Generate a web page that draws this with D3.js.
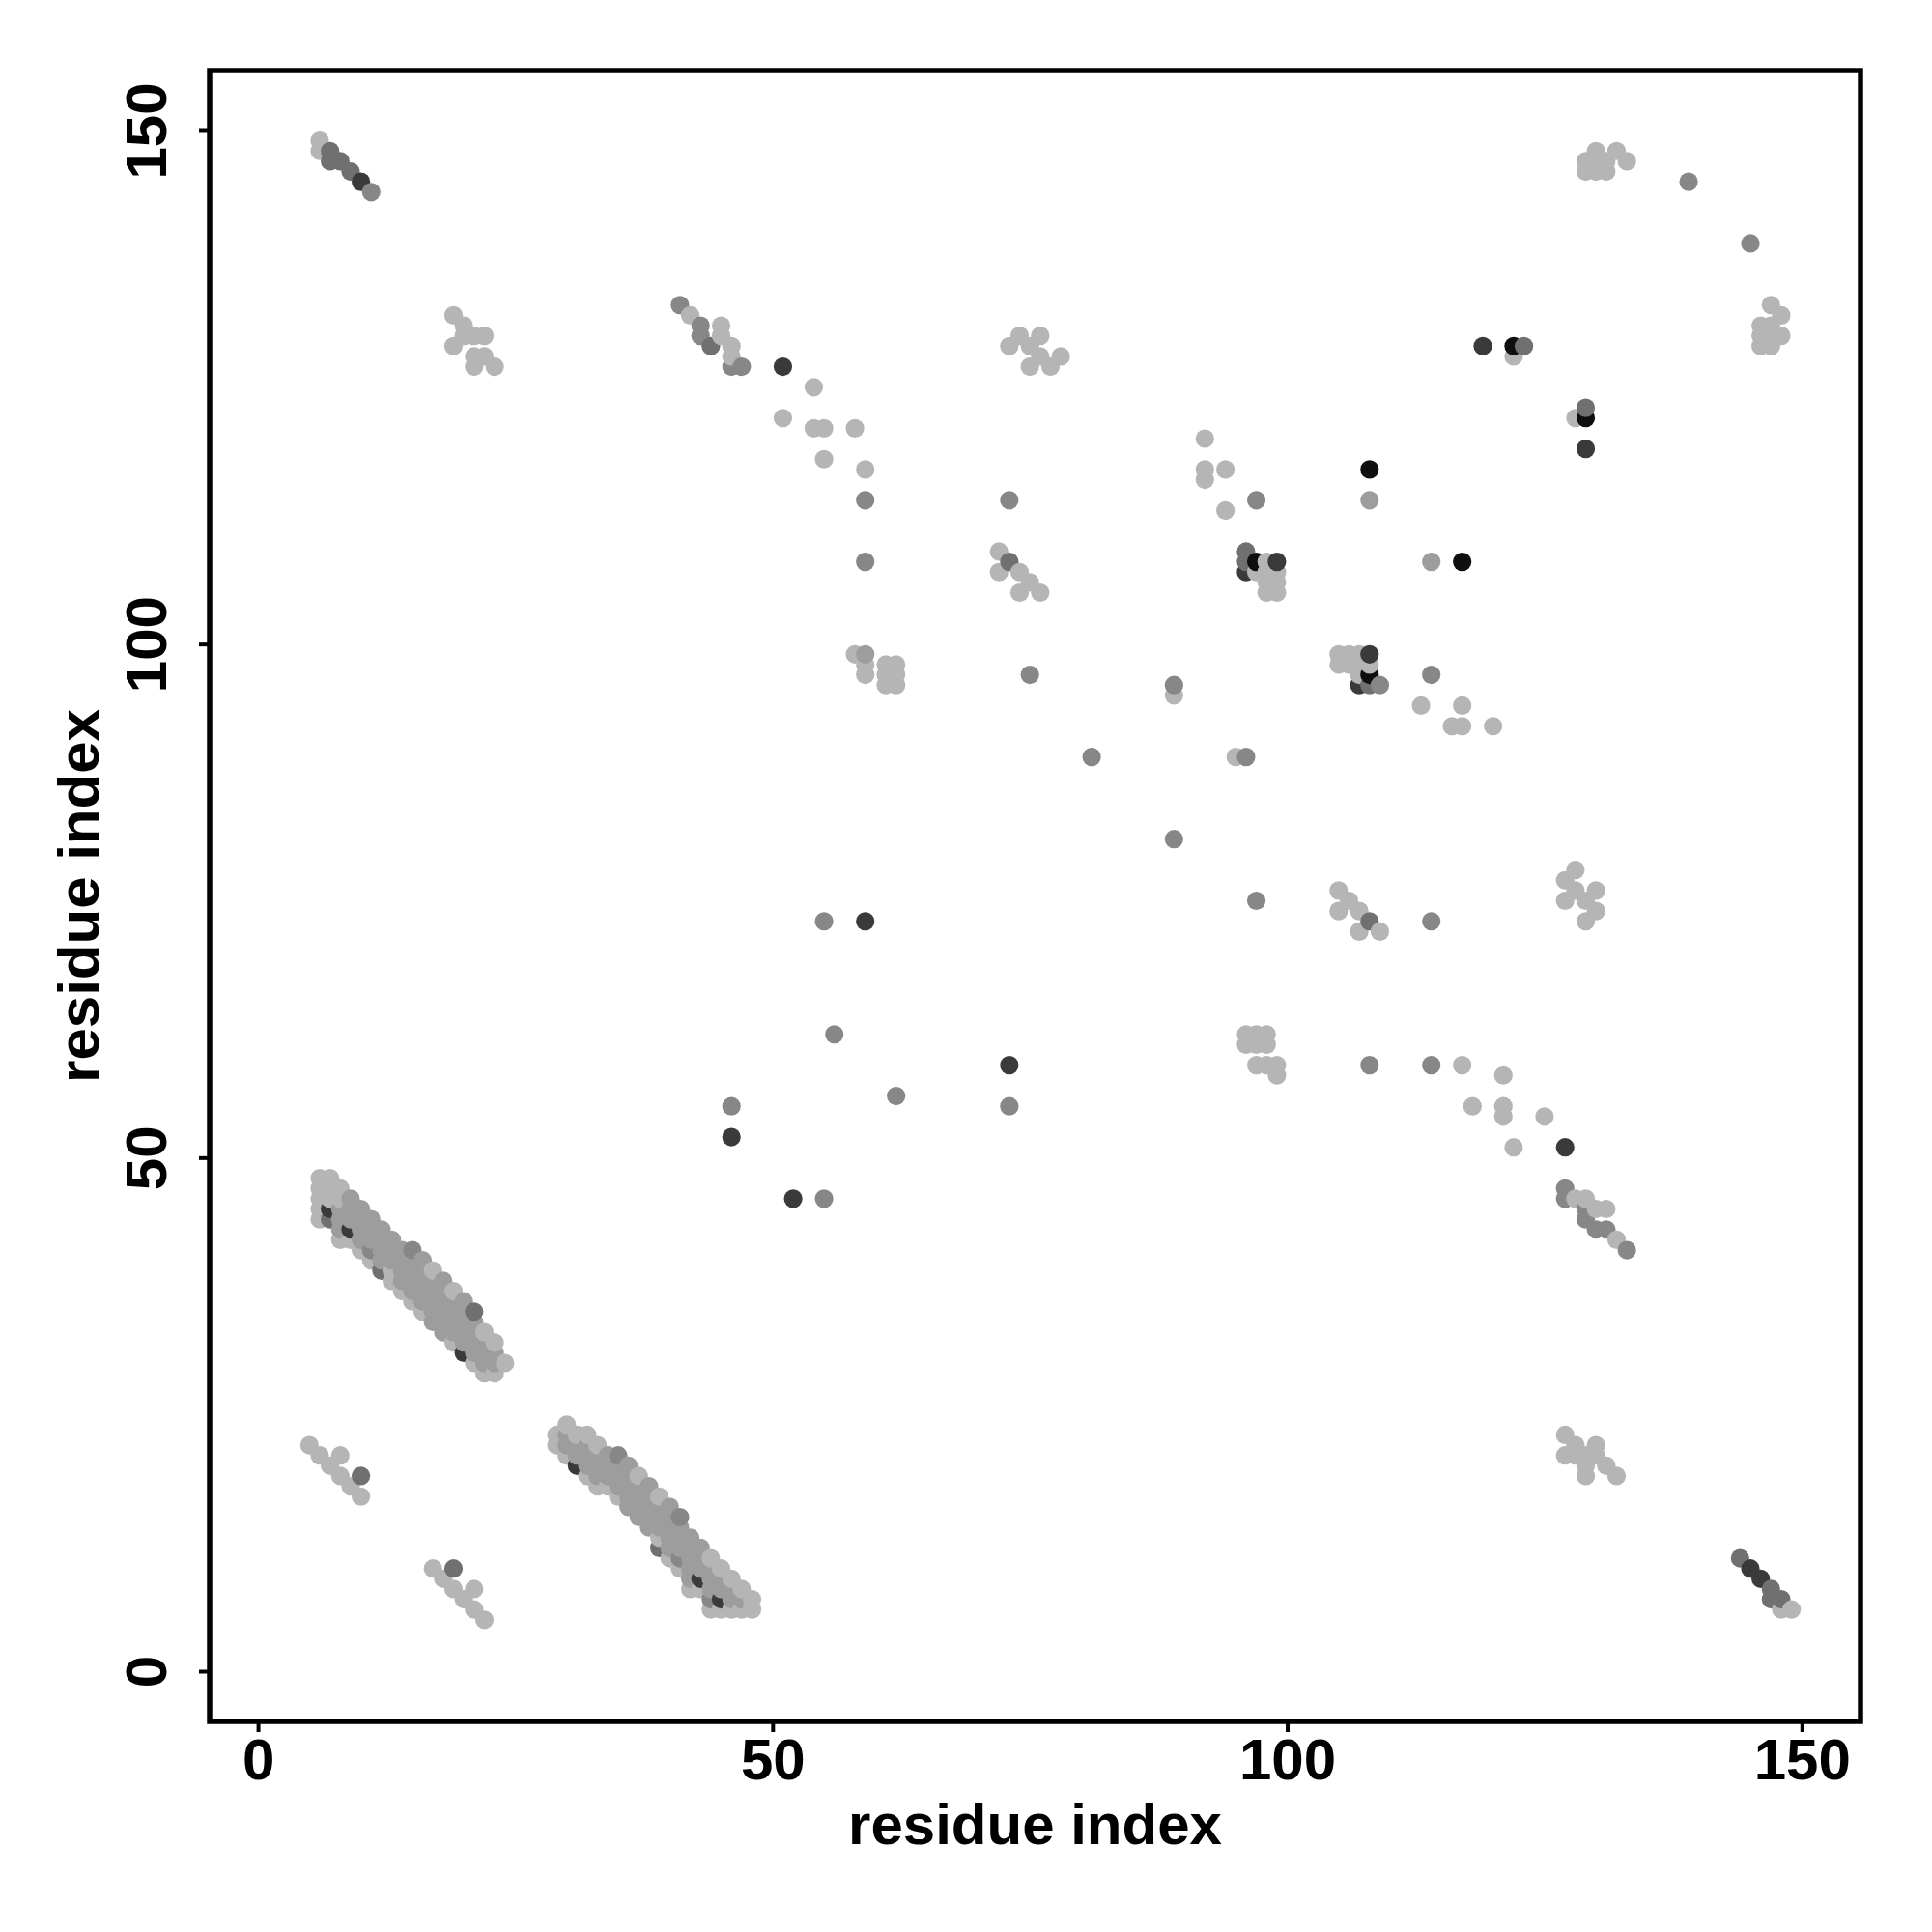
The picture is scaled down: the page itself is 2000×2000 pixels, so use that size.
<!DOCTYPE html>
<html><head><meta charset="utf-8">
<script src="https://cdn.jsdelivr.net/npm/d3@7"></script>
<style>body{margin:0;background:#fff}svg{display:block}</style>
</head><body>
<script>
// ---------- data ----------
const xTicks = [0, 50, 100, 150];
const yTicks = [0, 50, 100, 150];
const xTitle = "residue index";
const yTitle = "residue index";
// shade level 1 (light) .. 6 (black)
const shadeLevels = [1, 2, 3, 4, 5, 6];
const shadeGrays  = ["#b5b5b5", "#9d9d9d", "#878787", "#707070", "#3a3a3a", "#0f0f0f"];

// contacts: [residue i, residue j, shade level]
const clusterTopLeft = [[6,149,1],[6,148,1],[7,148,4],[7,147,4],[8,147,4],[9,146,4],[10,145,5],[11,144,3]];
const cluster20_130 = [[19,132,1],[20,131,1],[19,129,1],[20,130,1],[21,130,1],[22,130,1],[21,128,1],[22,128,1],[21,127,1],[23,127,1]];
const cluster41_133 = [[41,133,3],[42,132,1],[43,131,3],[43,130,3],[44,129,4],[45,131,1],[45,130,1],[46,129,1],[46,128,1],[46,127,3],[47,127,3]];
const contacts50s = [[51,127,5],[54,125,1],[51,122,1],[54,121,1],[55,121,1],[58,121,1],[55,118,1],[59,117,1],[59,114,3],[59,108,3],
  [58,99,1],[59,99,2],[59,98,1],[59,97,1],[61,98,1],[62,98,1],[61,97,1],[62,97,1],[61,96,1],[62,96,1]];
const contacts70s = [[73,129,1],[74,130,1],[76,130,1],[75,129,1],[76,128,1],[75,127,1],[77,127,1],[78,128,1],
  [73,114,3],[72,109,1],[73,108,4],[72,107,1],[74,107,1],[75,106,1],[74,105,1],[76,105,1],[75,97,3]];
const contacts90s = [[92,120,1],[92,117,1],[92,116,1],[94,117,1],[94,113,1],[97,114,3],
  [96,109,4],[96,108,4],[96,107,5],[97,107,1],[98,107,1],[99,107,1],[98,108,1],[97,108,6],[99,108,5],[98,106,1],[99,106,1],[98,105,1],[99,105,1],
  [89,96,3],[89,95,1],[81,89,3],[95,89,1],[96,89,3],[89,81,3]];
const contacts110s = [[108,117,6],[108,114,2],[114,108,2],[117,108,6],[114,97,3],[113,94,1],[117,94,1],[116,92,1],[117,92,1],[120,92,1],
  [105,99,1],[106,99,1],[107,99,1],[108,99,5],[105,98,1],[106,98,1],[107,98,1],[108,98,1],[107,97,1],[108,97,6],[107,96,5],[108,96,4],[109,96,3]];
const contactsTopRight = [[119,129,5],[122,129,6],[123,129,4],[122,128,1],[129,123,4],[128,122,1],[129,122,6],[129,119,5],
  [129,147,1],[129,146,1],[130,148,1],[130,147,1],[130,146,1],[131,147,1],[131,146,1],[132,148,1],[133,147,1],
  [139,145,3],[145,139,3],
  [147,133,1],[148,132,1],[146,131,1],[147,131,1],[146,130,1],[147,130,1],[148,130,1],[146,129,1],[147,129,1]];
const contactsMiddle = [[55,73,3],[59,73,5],[56,62,3],[46,55,3],[46,52,5],[62,56,3],[52,46,5],[55,46,3],[73,59,5],[73,55,3],
  [105,76,1],[106,75,1],[105,74,1],[107,74,1],[108,73,4],[107,72,1],[109,72,1],[114,73,3],[97,75,3],
  [127,77,1],[128,78,1],[128,76,1],[130,76,1],[127,75,1],[129,75,1],[130,74,1],[129,73,1],
  [96,62,1],[97,62,1],[98,62,1],[96,61,1],[97,61,1],[98,61,1],[97,59,1],[98,59,1],[99,59,1],[99,58,1]];
const contactsLowerRight = [[108,59,3],[114,59,3],[117,59,1],[121,58,1],[118,55,1],[121,55,1],[121,54,1],[125,54,1],[122,51,1],[127,51,5],
  [127,47,3],[127,46,3],[128,46,1],[129,46,1],[130,45,1],[131,45,1],[129,45,3],[129,44,3],[130,43,3],[131,43,3],[132,42,1],[133,41,3],
  [127,23,1],[128,22,1],[130,22,1],[127,21,1],[128,21,1],[129,21,1],[130,21,1],[129,20,1],[131,20,1],[129,19,1],[132,19,1],
  [144,11,4],[145,10,5],[146,9,5],[147,8,4],[147,7,4],[148,7,4],[148,6,1],[149,6,1]];
const contactsLowerLeft = [[5,22,1],[6,21,1],[8,21,1],[7,20,1],[8,19,1],[10,19,4],[9,18,1],[10,17,1],
  [17,10,1],[19,10,4],[18,9,1],[19,8,1],[21,8,1],[20,7,1],[21,6,1],[22,5,1]];
const bandUpper = [
  [6,44,1],[6,45,1],[6,46,1],[6,47,1],[6,48,1],
  [7,44,4],[7,45,5],[7,46,1],[7,47,1],[7,48,1],
  [8,42,1],[8,43,2],[8,44,2],[8,45,2],[8,46,1],[8,47,1],
  [9,42,1],[9,43,5],[9,44,2],[9,45,2],[9,46,2],
  [10,41,1],[10,42,2],[10,43,2],[10,44,2],[10,45,2],
  [11,40,1],[11,41,3],[11,42,2],[11,43,2],[11,44,2],
  [12,39,4],[12,40,2],[12,41,2],[12,42,2],[12,43,2],
  [13,38,1],[13,39,1],[13,40,2],[13,41,2],[13,42,2],
  [14,37,1],[14,38,2],[14,39,2],[14,40,2],[14,41,2],
  [15,36,1],[15,37,2],[15,38,2],[15,39,2],[15,40,2],[15,41,3],
  [16,35,1],[16,36,2],[16,37,2],[16,38,2],[16,39,2],[16,40,2],
  [17,34,2],[17,35,2],[17,36,2],[17,37,2],[17,38,2],[17,39,1],
  [18,33,2],[18,34,2],[18,35,2],[18,36,2],[18,37,2],[18,38,2],
  [19,32,1],[19,33,2],[19,34,2],[19,35,2],[19,36,2],[19,37,1],
  [20,31,5],[20,32,2],[20,33,2],[20,34,2],[20,35,2],[20,36,2],
  [21,30,1],[21,31,2],[21,32,2],[21,33,2],[21,34,2],[21,35,4],
  [22,29,1],[22,30,2],[22,31,2],[22,32,2],[22,33,1],
  [23,29,1],[23,30,2],[23,31,2],[23,32,1],
  [24,30,1]];
const bandLower = [
  [29,22,1],[29,23,1],
  [30,21,1],[30,22,2],[30,23,2],[30,24,1],
  [31,20,5],[31,21,2],[31,22,2],[31,23,1],
  [32,19,1],[32,20,2],[32,21,2],[32,22,2],[32,23,1],
  [33,18,1],[33,19,2],[33,20,2],[33,21,2],[33,22,1],
  [34,18,1],[34,19,2],[34,20,2],[34,21,2],
  [35,17,1],[35,18,2],[35,19,2],[35,20,2],[35,21,3],
  [36,16,2],[36,17,2],[36,18,2],[36,19,2],[36,20,2],
  [37,15,2],[37,16,2],[37,17,2],[37,18,2],[37,19,1],
  [38,14,2],[38,15,2],[38,16,2],[38,17,2],[38,18,2],
  [39,12,4],[39,13,1],[39,14,2],[39,15,2],[39,16,2],[39,17,1],
  [40,11,1],[40,12,2],[40,13,2],[40,14,2],[40,15,2],[40,16,2],
  [41,10,1],[41,11,3],[41,12,2],[41,13,2],[41,14,2],[41,15,3],
  [42,8,1],[42,9,2],[42,10,2],[42,11,2],[42,12,2],[42,13,2],
  [43,8,1],[43,9,5],[43,10,2],[43,11,2],[43,12,2],
  [44,6,1],[44,7,3],[44,8,2],[44,9,2],[44,10,2],[44,11,1],
  [45,6,1],[45,7,5],[45,8,2],[45,9,2],[45,10,1],
  [46,6,1],[46,7,2],[46,8,2],[46,9,1],
  [47,6,1],[47,7,2],[47,8,1],
  [48,6,1],[48,7,1]];

// ---------- layout ----------
const W = 2000, H = 2000;
const frame = {left: 217, right: 1926, top: 73, bottom: 1782};
const xDomain = [-4.7, 155.7], yDomain = [-4.89, 155.83];
const font = "'Liberation Sans', Arial, Helvetica, sans-serif";

const svg = d3.select("body").append("svg").attr("width", W).attr("height", H)
  .style("background", "#fff");

const x = d3.scaleLinear().domain(xDomain).range([frame.left, frame.right]);
const y = d3.scaleLinear().domain(yDomain).range([frame.bottom, frame.top]);
const color = d3.scaleOrdinal().domain(shadeLevels).range(shadeGrays);

const all = [].concat(clusterTopLeft, cluster20_130, cluster41_133, contacts50s, contacts70s,
  contacts90s, contacts110s, contactsTopRight, contactsMiddle, contactsLowerRight,
  contactsLowerLeft, bandUpper, bandLower)
  .map(d => ({i: d[0], j: d[1], s: d[2]}))
  .sort((a, b) => a.i - b.i || a.j - b.j);

svg.append("g").selectAll("circle").data(all).join("circle")
  .attr("cx", d => x(d.i)).attr("cy", d => y(d.j)).attr("r", 9.6)
  .attr("fill", d => color(d.s));

// axes
const xAxis = svg.append("g").attr("transform", `translate(0,${frame.bottom})`)
  .call(d3.axisBottom(x).tickValues(xTicks).tickSize(11).tickPadding(16).tickFormat(d3.format("d")));
const yAxis = svg.append("g").attr("transform", `translate(${frame.left},0)`)
  .call(d3.axisLeft(y).tickValues(yTicks).tickSize(11).tickPadding(16).tickFormat(d3.format("d")));
[xAxis, yAxis].forEach(g => {
  g.select(".domain").remove();
  g.selectAll(".tick line").attr("stroke", "#000").attr("stroke-width", 4);
  g.selectAll(".tick text").attr("fill", "#000").style("font-family", font)
    .style("font-size", "60px").style("font-weight", "bold");
});
xAxis.selectAll(".tick text").attr("dy", null).attr("y", 60);
yAxis.selectAll(".tick text")
  .attr("x", null).attr("dy", null)
  .attr("text-anchor", "middle")
  .attr("transform", "translate(-45,0) rotate(-90)");

// frame
svg.append("rect").attr("x", frame.left).attr("y", frame.top)
  .attr("width", frame.right - frame.left).attr("height", frame.bottom - frame.top)
  .attr("fill", "none").attr("stroke", "#000").attr("stroke-width", 5.5);

// titles
svg.append("text").attr("x", (frame.left + frame.right) / 2).attr("y", 1909)
  .attr("text-anchor", "middle").style("font-family", font).style("font-size", "60px")
  .style("font-weight", "bold").text(xTitle);
svg.append("text").attr("transform", `translate(102,${(frame.top + frame.bottom) / 2}) rotate(-90)`)
  .attr("text-anchor", "middle").style("font-family", font).style("font-size", "60px")
  .style("font-weight", "bold").text(yTitle);
</script>
</body></html>
